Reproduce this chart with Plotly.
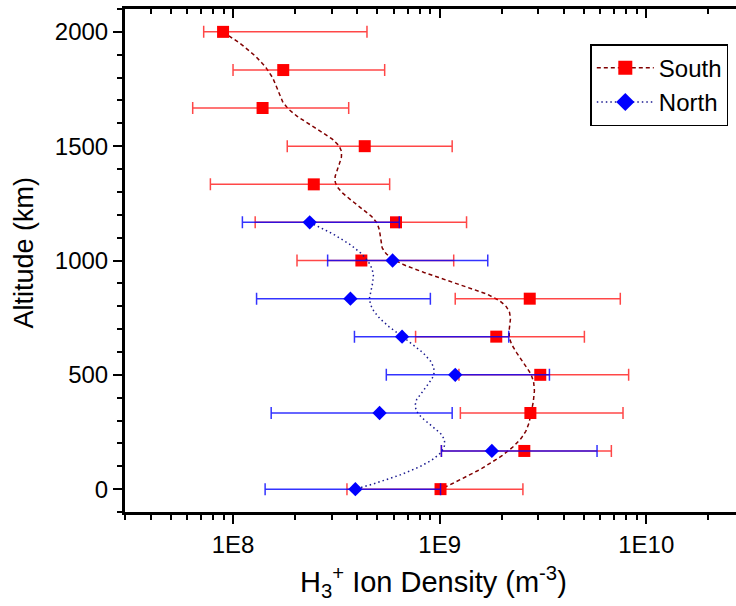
import numpy as np
import plotly.graph_objects as go

# ---------------- data ----------------
alt_south = [2000, 1833, 1667, 1500, 1333, 1167, 1000, 833, 667, 500, 333, 167, 0]
south_val = [8.95e7, 1.75e8, 1.39e8, 4.34e8, 2.46e8, 6.15e8, 4.18e8, 2.73e9, 1.88e9, 3.07e9, 2.75e9, 2.57e9, 1.01e9]
south_lo = [7.21e7, 1.00e8, 6.38e7, 1.83e8, 7.77e7, 1.28e8, 2.04e8, 1.19e9, 7.65e8, 1.24e9, 1.26e9, 1.02e9, 3.56e8]
south_hi = [4.45e8, 5.42e8, 3.63e8, 1.15e9, 5.73e8, 1.35e9, 1.17e9, 7.49e9, 5.02e9, 8.22e9, 7.72e9, 6.78e9, 2.53e9]

alt_north = [1167, 1000, 833, 667, 500, 333, 167, 0]
north_val = [2.35e8, 5.92e8, 3.70e8, 6.58e8, 1.19e9, 5.12e8, 1.79e9, 3.91e8]
north_lo = [1.11e8, 2.87e8, 1.30e8, 3.87e8, 5.52e8, 1.53e8, 1.02e9, 1.43e8]
north_hi = [6.38e8, 1.71e9, 9.02e8, 2.16e9, 3.40e9, 1.15e9, 5.78e9, 1.01e9]

x_tickvals = [1e8, 1e9, 1e10]
x_ticktext = ["1E8", "1E9", "1E10"]
y_tickvals = [0, 500, 1000, 1500, 2000]

FONT = "Arial, Liberation Sans, sans-serif"


def bspline(xs, ys, n_out=400, k=3):
    """Clamped uniform cubic B-spline with the data points as control points
    (computed in log10(x) space, as drawn on the log axis)."""
    P = np.column_stack([np.log10(xs), ys]).astype(float)
    n = len(P)
    knots = np.concatenate([np.zeros(k + 1), np.arange(1, n - k), np.full(k + 1, n - k)]).astype(float)
    ts = np.linspace(0, n - k, n_out)
    N = np.zeros((len(ts), len(knots) - 1))
    for i in range(len(knots) - 1):
        N[:, i] = ((knots[i] <= ts) & (ts < knots[i + 1])).astype(float)
    N[ts >= knots[-1], n - 1] = 1.0
    for p in range(1, k + 1):
        Nn = np.zeros((len(ts), len(knots) - 1 - p))
        for i in range(len(knots) - 1 - p):
            d1 = knots[i + p] - knots[i]
            d2 = knots[i + p + 1] - knots[i + 1]
            a = (ts - knots[i]) / d1 * N[:, i] if d1 > 0 else 0.0
            b = (knots[i + p + 1] - ts) / d2 * N[:, i + 1] if d2 > 0 else 0.0
            Nn[:, i] = a + b
        N = Nn
    C = N @ P
    return 10 ** C[:, 0], C[:, 1]


fig = go.Figure()

series = [
    ("South", alt_south, south_val, south_lo, south_hi, "#FF0000", "rgba(255,0,0,0.72)",
     "square", 12, 14, "#800000", "4px,3px"),
    ("North", alt_north, north_val, north_lo, north_hi, "#0000FF", "rgba(0,0,255,0.8)",
     "diamond", 11, 14, "#1a1a90", "1.5px,3px"),
]

for name, alt, val, lo, hi, mcol, ecol, sym, msz, lsz, lcol, dash in series:
    plus = [h - v for h, v in zip(hi, val)]
    minus = [v - l for v, l in zip(val, lo)]
    sx, sy = bspline(val, alt)
    fig.add_trace(go.Scatter(
        x=sx, y=sy, mode="lines", showlegend=False, hoverinfo="skip",
        line=dict(color=lcol, width=1.5, dash=dash)))
    fig.add_trace(go.Scatter(
        x=val, y=alt, mode="markers", showlegend=False, name=name,
        marker=dict(symbol=sym, size=msz, color=mcol, line=dict(width=0)),
        error_x=dict(type="data", array=plus, arrayminus=minus, color=ecol,
                     thickness=1.5, width=6)))
    # legend entry
    fig.add_trace(go.Scatter(
        x=[None], y=[None], mode="lines+markers", name=name,
        marker=dict(symbol=sym, size=lsz, color=mcol, line=dict(width=0)),
        line=dict(color=lcol, width=1.5, dash=dash)))

# dummy trace for top axis
fig.add_trace(go.Scatter(x=[None], y=[None], xaxis="x2", yaxis="y", showlegend=False,
                         hoverinfo="skip", mode="markers"))

xr = [np.log10(3e7), np.log10(3e7) + 611 / 206.6]

fig.update_layout(
    width=736, height=606,
    margin=dict(l=125, r=0, t=9, b=94),
    paper_bgcolor="white", plot_bgcolor="white",
    font=dict(family=FONT, color="black", size=24),
    showlegend=True,
    legend=dict(x=0.9874, xanchor="right", y=0.93, yanchor="top",
                bordercolor="black", borderwidth=1.5, bgcolor="white",
                font=dict(family=FONT, size=24, color="black"),
                itemwidth=57, tracegroupgap=0),
    xaxis=dict(type="log", range=xr, showgrid=False, zeroline=False,
               showline=True, linecolor="black", linewidth=3,
               ticks="outside", ticklen=9, tickwidth=2, tickcolor="black",
               tickvals=x_tickvals, ticktext=x_ticktext,
               tickfont=dict(family=FONT, size=24),
               minor=dict(ticks="outside", ticklen=5, tickwidth=2, tickcolor="black",
                          dtick="D1", showgrid=False)),
    xaxis2=dict(type="log", range=xr, overlaying="x", side="top", showgrid=False,
                zeroline=False, showline=True, linecolor="black", linewidth=3,
                ticks="inside", ticklen=9, tickwidth=2, tickcolor="black",
                tickvals=x_tickvals, showticklabels=False,
                minor=dict(ticks="inside", ticklen=5, tickwidth=2, tickcolor="black",
                           dtick="D1", showgrid=False)),
    yaxis=dict(range=[-100, 2100], showgrid=False, zeroline=False,
               showline=True, linecolor="black", linewidth=3,
               ticks="outside", ticklen=9, tickwidth=2, tickcolor="black",
               tickvals=y_tickvals, tickfont=dict(family=FONT, size=24),
               minor=dict(ticks="outside", ticklen=5, tickwidth=2, tickcolor="black",
                          dtick=100, showgrid=False)),
    annotations=[
        dict(text="Altitude (km)", xref="paper", yref="paper", x=-0.1653, y=0.516,
             xanchor="center", yanchor="middle", textangle=-90, showarrow=False,
             font=dict(family=FONT, size=27, color="black")),
        dict(text="H<sub>3</sub><sup>+</sup> Ion Density (m<sup>-3</sup>)",
             xref="paper", yref="paper", x=0.5057, y=-0.139,
             xanchor="center", yanchor="middle", showarrow=False,
             font=dict(family=FONT, size=29, color="black")),
    ],
)

fig.write_html("out.html")
